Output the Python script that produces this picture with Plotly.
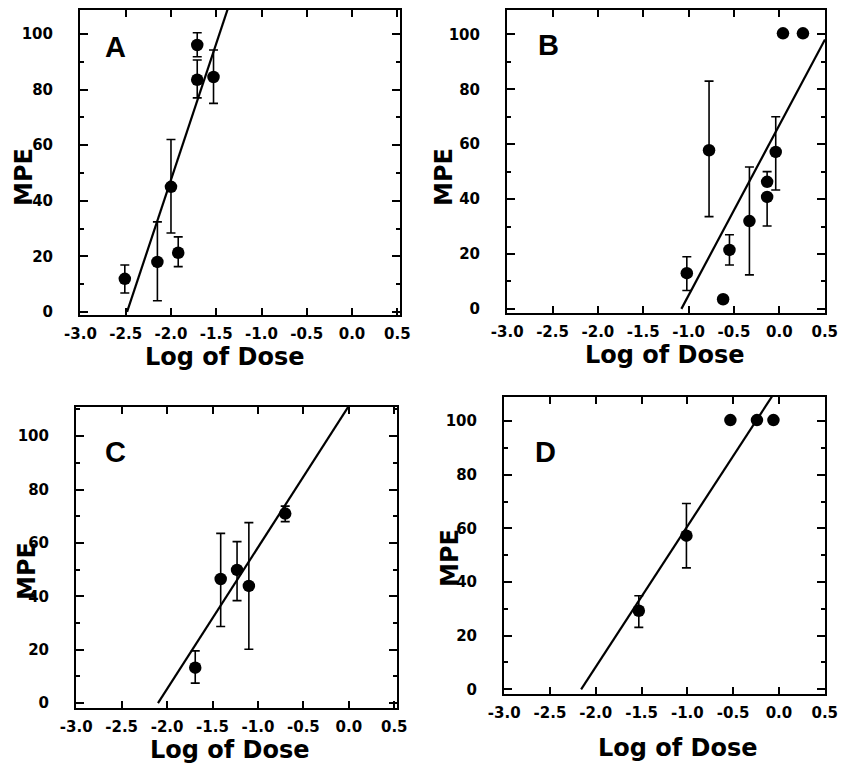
import plotly.graph_objects as go

W, H = 843, 774

# ---------------- data ----------------
# Panel A
a_x = [-2.51, -2.15, -2.00, -1.92, -1.71, -1.71, -1.53]
a_y = [11.9, 18.0, 45.0, 21.3, 96.0, 83.5, 84.5]
a_hi = [16.9, 32.4, 62.0, 27.0, 100.4, 90.6, 94.2]
a_lo = [6.8, 4.0, 28.4, 16.3, 91.8, 77.0, 75.0]
a_fit = [-2.485, 98.0]          # x-intercept, slope

# Panel B
b_x = [-1.02, -0.775, -0.62, -0.55, -0.33, -0.135, -0.135, -0.04, 0.04, 0.26]
b_y = [13.0, 57.8, 3.5, 21.5, 32.0, 46.3, 40.8, 57.2, 100.4, 100.4]
b_hi = [19.0, 83.0, 3.5, 27.0, 51.7, 50.0, 40.8, 70.0, 100.4, 100.4]
b_lo = [6.7, 33.6, 3.5, 16.0, 12.4, 46.3, 30.2, 43.3, 100.4, 100.4]
b_fit = [-1.08, 62.0]

# Panel C
c_x = [-1.69, -1.41, -1.23, -1.10, -0.70]
c_y = [13.3, 46.5, 49.9, 43.9, 71.0]
c_hi = [19.6, 63.6, 60.5, 67.6, 73.8]
c_lo = [7.5, 28.7, 38.4, 20.2, 68.0]
c_fit = [-2.10, 53.0]

# Panel D
d_x = [-1.53, -1.01, -0.53, -0.24, -0.06]
d_y = [29.3, 57.3, 100.4, 100.4, 100.4]
d_hi = [34.9, 69.3, 100.4, 100.4, 100.4]
d_lo = [23.1, 45.3, 100.4, 100.4, 100.4]
d_fit = [-2.16, 52.4]

panel_letters = ["A", "B", "C", "D"]
x_ticks = [-3.0, -2.5, -2.0, -1.5, -1.0, -0.5, 0.0, 0.5]
x_ticktext = ["-3.0", "-2.5", "-2.0", "-1.5", "-1.0", "-0.5", "0.0", "0.5"]
y_ticks = [0, 20, 40, 60, 80, 100]
y_ticktext = ["0", "20", "40", "60", "80", "100"]
x_title = "Log of Dose"
y_title = "MPE"

panels = [
    (a_x, a_y, a_hi, a_lo, a_fit),
    (b_x, b_y, b_hi, b_lo, b_fit),
    (c_x, c_y, c_hi, c_lo, c_fit),
    (d_x, d_y, d_hi, d_lo, d_fit),
]

# ---------------- layout geometry (pixels) ----------------
boxes = [  # left, right, top, bottom
    (80, 400, 10, 315),
    (507, 825, 10, 313),
    (76, 397, 407, 708),
    (504, 825, 397, 694),
]
x_ranges = [[-3.005, 0.53], [-3.002, 0.503], [-3.002, 0.53], [-3.002, 0.503]]
y_ranges = [[-1.1, 108.6], [-1.5, 108.9], [-1.8, 110.9], [-1.75, 109.0]]
letter_pos = [(115, 47), (548, 45), (115, 452), (545, 452)]
ytitle_pos = [(24, 177), (444, 177), (27, 571), (450, 558)]
xtitle_pos = [(225, 357), (665, 355), (230, 750), (678, 748)]


def px(x):
    return x / W


def py(y):
    return 1 - y / H


FONT = "DejaVu Sans, sans-serif"
LFONT = "Liberation Sans, Arial, sans-serif"
fig = go.Figure()

for i, (xs, ys, hi, lo, fit) in enumerate(panels):
    n = "" if i == 0 else str(i + 1)
    xa, ya = "x" + n, "y" + n
    up = [h - v for h, v in zip(hi, ys)]
    dn = [v - l for v, l in zip(ys, lo)]
    fig.add_trace(go.Scatter(
        x=xs, y=ys, mode="markers", xaxis=xa, yaxis=ya,
        marker=dict(color="black", size=12.5),
        error_y=dict(type="data", symmetric=False, array=up, arrayminus=dn,
                     color="black", thickness=1.6, width=4.5),
        showlegend=False, cliponaxis=False,
    ))
    x0, slope = fit
    x1 = x_ranges[i][1]
    fig.add_trace(go.Scatter(
        x=[x0, x1], y=[0, slope * (x1 - x0)], mode="lines",
        xaxis=xa, yaxis=ya, line=dict(color="black", width=2.2),
        showlegend=False,
    ))

    l, r, t, b = boxes[i]
    common = dict(showline=True, linecolor="black", linewidth=2,
                  mirror="allticks", ticks="inside", tickcolor="black",
                  tickwidth=1.5, showgrid=False, zeroline=False,
                  automargin=False,
                  tickfont=dict(family=FONT, size=15, color="black", weight="bold"))
    fig.update_layout(**{
        "xaxis" + n: dict(domain=[px(l), px(r)], range=x_ranges[i],
                          anchor=ya, tickvals=x_ticks, ticktext=x_ticktext,
                          ticklen=7, ticklabelstandoff=4, **common),
        "yaxis" + n: dict(domain=[py(b), py(t)], range=y_ranges[i],
                          anchor=xa, tickvals=y_ticks, ticktext=y_ticktext,
                          ticklen=8, ticklabelstandoff=22,
                          minor=dict(dtick=10, tick0=0, ticks="inside", ticklen=4,
                                     tickwidth=1.5, tickcolor="black"),
                          **common),
    })

    ann = dict(xref="paper", yref="paper", showarrow=False,
               xanchor="center", yanchor="middle")
    lx, ly = letter_pos[i]
    fig.add_annotation(x=px(lx), y=py(ly), text=panel_letters[i],
                       font=dict(family=LFONT, size=29, color="black", weight="bold"),
                       **ann)
    tx, ty = ytitle_pos[i]
    fig.add_annotation(x=px(tx), y=py(ty), text=y_title, textangle=-90,
                       font=dict(family=FONT, size=24, color="black", weight="bold"),
                       **ann)
    tx, ty = xtitle_pos[i]
    fig.add_annotation(x=px(tx), y=py(ty), text=x_title,
                       font=dict(family=FONT, size=24, color="black", weight="bold"),
                       **ann)

fig.update_layout(width=W, height=H, margin=dict(l=0, r=0, t=0, b=0),
                  paper_bgcolor="white", plot_bgcolor="white")

fig.write_html("out.html")
